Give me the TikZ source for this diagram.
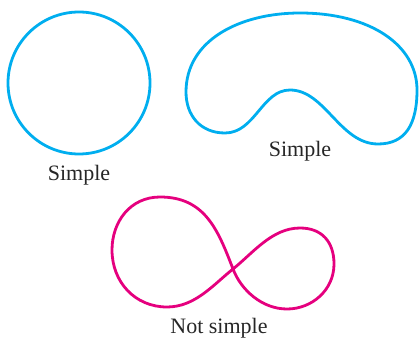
\documentclass[tikz,border=0pt]{standalone}
\usepackage{fontspec}
\setmainfont{Liberation Serif}
\definecolor{curvecyan}{HTML}{00AEEF}
\definecolor{curvemag}{HTML}{E5007E}
\begin{document}
\begin{tikzpicture}[x=1pt,y=-1pt,
  curveline/.style={line width=2.8pt},
  lbl/.style={anchor=base,inner sep=0pt,text=black!85,font=\fontsize{22}{26}\selectfont}]
\useasboundingbox (0,0) rectangle (419,339);
% circle
\draw[curveline,curvecyan] (79,83) circle[radius=71];
\node[lbl] (l1) at (79,180) {Simple};
% kidney
\draw[curveline,curvecyan] (186,92)
  .. controls (186,40) and (240,13) .. (300,13)
  .. controls (370,13) and (417,45) .. (417,90)
  .. controls (417,125) and (405,144) .. (378,144)
  .. controls (340,144) and (325,90) .. (290,90)
  .. controls (262,90) and (255,133) .. (225,133)
  .. controls (200,133) and (186,115) .. (186,92) -- cycle;
\node[lbl] (l2) at (300,156) {Simple};
% figure eight
\coordinate (x) at (233,269);
\draw[curveline,curvemag] (x)
  .. controls (218,230) and (205,197) .. (160,197)
  .. controls (130,197) and (112,222) .. (112,250)
  .. controls (112,282) and (135,307) .. (167,307)
  .. controls (195,307) and (213,285) .. (x)
  .. controls (253,253) and (272,228) .. (300,228)
  .. controls (322,228) and (334,242) .. (334,264)
  .. controls (334,290) and (312,309) .. (287,309)
  .. controls (262,309) and (241,290) .. (x) -- cycle;
\node[lbl] (l3) at (219,333) {Not simple};
\end{tikzpicture}
\end{document}
